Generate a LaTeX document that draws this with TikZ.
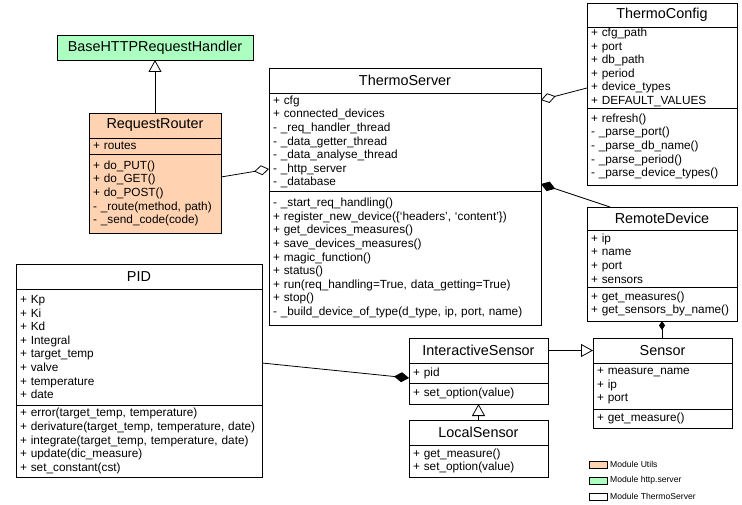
\documentclass[tikz,border=0pt]{standalone}
\usepackage{fontspec}
\setmainfont{Liberation Sans}
\usepackage{tikz}
\usetikzlibrary{positioning,arrows.meta}
\definecolor{utilfill}{RGB}{255,211,178}
\definecolor{httpfill}{RGB}{172,255,192}
\newcommand{\clstitlefont}{\fontsize{14.4}{16}\selectfont}
\newcommand{\clsbodyfont}{\fontsize{11.8}{13.6}\selectfont}
\tikzset{
  clstitle/.style={draw=black,line width=0.8pt,outer sep=0pt,inner sep=0pt,align=center,
                   font=\clstitlefont},
  clsbody/.style={draw=black,line width=0.8pt,outer sep=0pt,inner xsep=4pt,inner ysep=0pt,
                  align=left,font=\clsbodyfont},
  inherit/.style={-{Triangle[open,length=12pt,width=13pt]},line width=0.8pt},
  aggreg/.style={{Diamond[open,length=15pt,width=10pt]}-,line width=0.8pt},
  compos/.style={{Diamond[length=15pt,width=10pt]}-,line width=0.8pt},
  smallcompos/.style={{Diamond[length=9pt,width=6pt]}-,line width=0.8pt},
  legbox/.style={draw=black,line width=0.6pt,minimum width=18pt,minimum height=7pt,
                 inner sep=0pt,outer sep=0pt,anchor=north west},
  legtext/.style={inner sep=0pt,font=\fontsize{8.6}{10}\selectfont}
}

\begin{document}
\begin{tikzpicture}[x=1pt,y=-1pt,node distance=0pt]
\useasboundingbox (0,0) rectangle (742,505);

% http.server
\node[clstitle, fill=httpfill, minimum width=196pt, minimum height=25pt, anchor=north west]
  (base) at (57,35) {BaseHTTPRequestHandler};

% utils
\node[clstitle, fill=utilfill, minimum width=132pt, minimum height=25pt, anchor=north west]
  (rtrt) at (89,113) {RequestRouter};
\node[clsbody, fill=utilfill, text width=124pt, minimum height=16pt, below=of rtrt] (rtra)
  {+ routes};
\node[clsbody, fill=utilfill, text width=124pt, minimum height=79pt, below=of rtra] (rtrm)
  {+ do\_PUT()\\+ do\_GET()\\+ do\_POST()\\- \_route(method, path)\\- \_send\_code(code)};

% server
\node[clstitle, minimum width=272pt, minimum height=25pt, anchor=north west]
  (srvt) at (269,68) {ThermoServer};
\node[clsbody, text width=264pt, minimum height=98pt, below=of srvt] (srva)
  {+ cfg\\+ connected\_devices\\- \_req\_handler\_thread\\- \_data\_getter\_thread\\
   - \_data\_analyse\_thread\\- \_http\_server\\- \_database};
\node[clsbody, text width=264pt, minimum height=134pt, below=of srva] (srvm)
  {- \_start\_req\_handling()\\+ register\_new\_device(\{‘headers’, ‘content’\})\\
   + get\_devices\_measures()\\+ save\_devices\_measures()\\+ magic\_function()\\
   + status()\\+ run(req\_handling=True, data\_getting=True)\\+ stop()\\
   - \_build\_device\_of\_type(d\_type, ip, port, name)};

% config
\node[clstitle, minimum width=150pt, minimum height=24pt, anchor=north west]
  (cfgt) at (587,3) {ThermoConfig};
\node[clsbody, text width=142pt, minimum height=81pt, below=of cfgt] (cfga)
  {+ cfg\_path\\+ port\\+ db\_path\\+ period\\+ device\_types\\+ DEFAULT\_VALUES};
\node[clsbody, text width=142pt, minimum height=77pt, below=of cfga] (cfgm)
  {+ refresh()\\- \_parse\_port()\\- \_parse\_db\_name()\\- \_parse\_period()\\
   - \_parse\_device\_types()};

% remote device
\node[clstitle, minimum width=150pt, minimum height=23pt, anchor=north west]
  (rmtt) at (587,207) {RemoteDevice};
\node[clsbody, text width=142pt, minimum height=57pt, below=of rmtt] (rmta)
  {+ ip\\+ name\\+ port\\+ sensors};
\node[clsbody, text width=142pt, minimum height=34pt, below=of rmta] (rmtm)
  {+ get\_measures()\\+ get\_sensors\_by\_name()};

% pid
\node[clstitle, minimum width=246pt, minimum height=25pt, anchor=north west]
  (pidt) at (16,264) {PID};
\node[clsbody, text width=238pt, minimum height=116pt, below=of pidt] (pida)
  {+ Kp\\+ Ki\\+ Kd\\+ Integral\\+ target\_temp\\+ valve\\+ temperature\\+ date};
\node[clsbody, text width=238pt, minimum height=72pt, below=of pida] (pidm)
  {+ error(target\_temp, temperature)\\+ derivature(target\_temp, temperature, date)\\
   + integrate(target\_temp, temperature, date)\\+ update(dic\_measure)\\
   + set\_constant(cst)};

% sensors
\node[clstitle, minimum width=139pt, minimum height=25pt, anchor=north west]
  (ist) at (409,338) {InteractiveSensor};
\node[clsbody, text width=131pt, minimum height=20pt, below=of ist] (isa) {+ pid};
\node[clsbody, text width=131pt, minimum height=21pt, below=of isa] (ism)
  {+ set\_option(value)};

\node[clstitle, minimum width=139pt, minimum height=25pt, anchor=north west]
  (lst) at (409,420) {LocalSensor};
\node[clsbody, text width=131pt, minimum height=32pt, below=of lst] (lsm)
  {+ get\_measure()\\+ set\_option(value)};

\node[clstitle, minimum width=139pt, minimum height=25pt, anchor=north west]
  (snt) at (593,338) {Sensor};
\node[clsbody, text width=131pt, minimum height=46pt, below=of snt] (sna)
  {+ measure\_name\\+ ip\\+ port};
\node[clsbody, text width=131pt, minimum height=19pt, below=of sna] (snm)
  {+ get\_measure()};

% relations
\draw[inherit] (rtrt) -- (base);
\draw[aggreg] ([yshift=-76pt]srva.north west) -- ([yshift=-23pt]rtrm.north east);
\draw[aggreg] ([yshift=-7pt]srva.north east) -- ([yshift=-61pt]cfga.north west);
\draw[compos] ([yshift=-91pt]srva.north east) -- ([xshift=23pt]rmtt.north west);
\draw[smallcompos] (rmtm.south) -- (rmtm.south |- snt.north);
\draw[compos] ([yshift=-15pt]isa.north west) -- ([yshift=-74pt]pida.north east);
\draw[inherit] (ist) -- (snt);
\draw[inherit] (lst.north) -- (ism.south);

% legend
\node[legbox, fill=utilfill] (legu) at (589,461) {};
\node[legtext, right=3pt of legu] (legut) {Module Utils};
\node[legbox, fill=httpfill] (legh) at (589,477) {};
\node[legtext, right=3pt of legh] (leght) {Module http.server};
\node[legbox, fill=white] (legs) at (589,493) {};
\node[legtext, right=3pt of legs] (legst) {Module ThermoServer};
\end{tikzpicture}
\end{document}
